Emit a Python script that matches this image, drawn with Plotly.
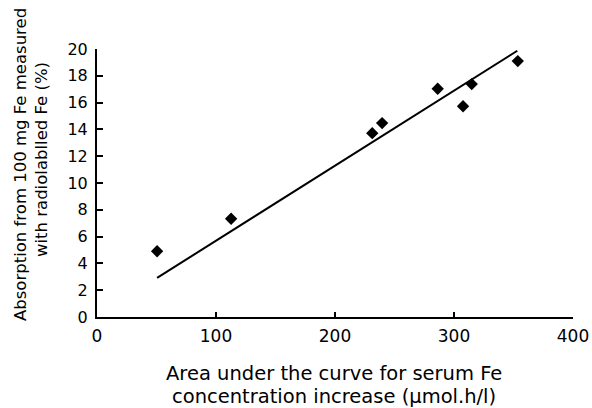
import plotly.graph_objects as go

# Data
auc = [50.5, 112.7, 231.3, 239.6, 286.3, 307.6, 314.9, 353.6]
absorption = [4.91, 7.33, 13.72, 14.47, 17.03, 15.73, 17.38, 19.1]
fit_x = [50.5, 353.2]
fit_y = [2.92, 19.87]
x_ticks = [0, 100, 200, 300, 400]
y_ticks = [0, 2, 4, 6, 8, 10, 12, 14, 16, 18, 20]

FONT = "DejaVu Sans"

fig = go.Figure()
fig.add_trace(go.Scatter(x=fit_x, y=fit_y, mode="lines",
                         line=dict(color="black", width=2), showlegend=False))
fig.add_trace(go.Scatter(x=auc, y=absorption, mode="markers",
                         marker=dict(symbol="diamond", size=9.5, color="black"),
                         showlegend=False))

L, R, T, B = 97, 19, 49, 91
W, H = 592, 408
pw = W - L - R
ph = H - T - B

fig.update_layout(
    width=W, height=H, autosize=False,
    margin=dict(l=L, r=R, t=T, b=B, autoexpand=False),
    paper_bgcolor="white", plot_bgcolor="white",
    font=dict(family=FONT, size=16, color="black"),
    xaxis=dict(range=[0, 400], tickvals=x_ticks, ticks="inside", ticklen=5,
               tickwidth=1.5, tickcolor="black", showline=True, linecolor="black",
               linewidth=2, showgrid=False, zeroline=False, automargin=False,
               ticklabelstandoff=3,
               tickfont=dict(family=FONT, size=17)),
    yaxis=dict(range=[0, 20], tickvals=y_ticks, ticks="inside", ticklen=6,
               tickwidth=1.5, tickcolor="black", showline=True, linecolor="black",
               linewidth=2, showgrid=False, zeroline=False, automargin=False,
               ticklabelstandoff=4,
               tickfont=dict(family=FONT, size=16)),
)

def px_x(p):
    return (p - L) / pw

def px_y(p):
    return (H - B - p) / ph

annots = [
    dict(text="Area under the curve for serum Fe", x=px_x(334), y=px_y(373), size=19.5),
    dict(text="concentration increase (µmol.h/l)", x=px_x(334), y=px_y(396), size=19.5),
    dict(text="Absorption from 100 mg Fe measured", x=px_x(20), y=px_y(165), textangle=-90, size=16.5),
    dict(text="with radiolablled Fe (%)", x=px_x(41), y=px_y(160), textangle=-90, size=16.5),
]
for a in annots:
    size = a.pop("size")
    fig.add_annotation(xref="paper", yref="paper", showarrow=False,
                       xanchor="center", yanchor="middle",
                       font=dict(family=FONT, size=size, color="black"), **a)

fig.write_html("out.html",
               config={"displayModeBar": False, "responsive": False},
               post_script="document.body.style.margin='0';document.body.style.overflow='hidden';")
